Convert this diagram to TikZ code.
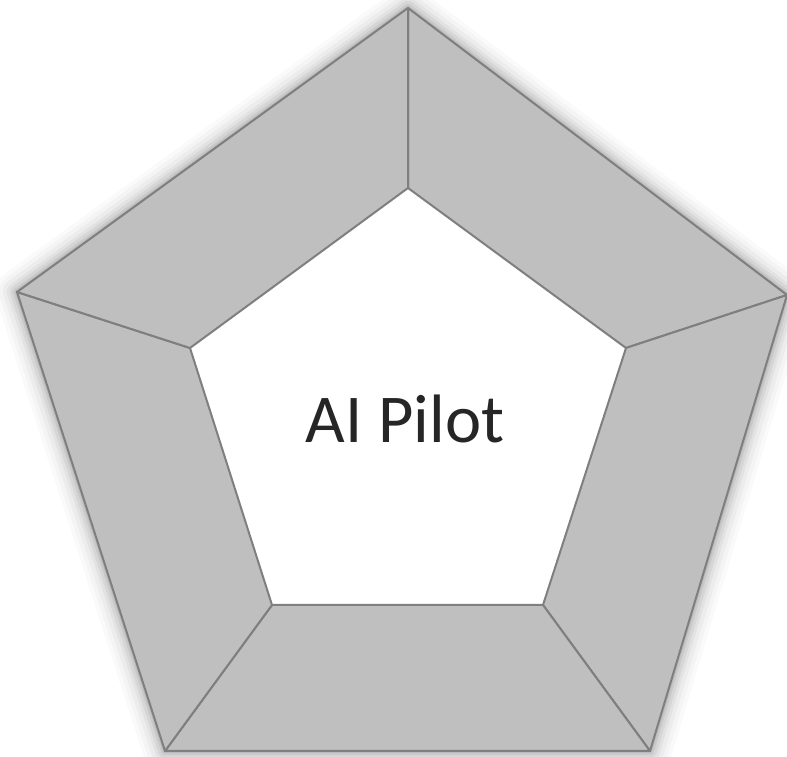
\documentclass[tikz,border=0pt]{standalone}
\usepackage{fontspec}
\setmainfont{Carlito}
\begin{document}
\begin{tikzpicture}[x=1pt,y=1pt,
  seg/.style={fill={rgb,255:red,191;green,191;blue,191}, draw={rgb,255:red,127;green,127;blue,127}, line width=2pt, line join=round},
  glow/.style={draw=black, line join=round}]
\useasboundingbox (0,0) rectangle (787,757);
\fill[white] (0,0) rectangle (787,757);
\coordinate (oT) at (408,749);
\coordinate (oR) at (787,462);
\coordinate (oBR) at (650,6);
\coordinate (oBL) at (165,6);
\coordinate (oL) at (17,465);
\coordinate (iT) at (408,569);
\coordinate (iR) at (626,409);
\coordinate (iBR) at (543,152);
\coordinate (iBL) at (272,152);
\coordinate (iL) at (190,409);
% soft outer glow
\foreach \w/\o in {44/0.02,36/0.025,28/0.03,20/0.04,14/0.05,8/0.06,4/0.07}{
  \draw[glow, line width=\w pt, opacity=\o] (oT) -- (oR) -- (oBR) -- (oBL) -- (oL) -- cycle;
}
\path[seg] (oT) -- (oR) -- (iR) -- (iT) -- cycle;
\path[seg] (oR) -- (oBR) -- (iBR) -- (iR) -- cycle;
\path[seg] (oBR) -- (oBL) -- (iBL) -- (iBR) -- cycle;
\path[seg] (oBL) -- (oL) -- (iL) -- (iBL) -- cycle;
\path[seg] (oL) -- (oT) -- (iT) -- (iL) -- cycle;
\node[anchor=base, font=\fontsize{68.5}{72}\selectfont, text={rgb,255:red,38;green,38;blue,38}, inner sep=0pt] (lbl) at (405,314) {AI Pilot};
\end{tikzpicture}
\end{document}
